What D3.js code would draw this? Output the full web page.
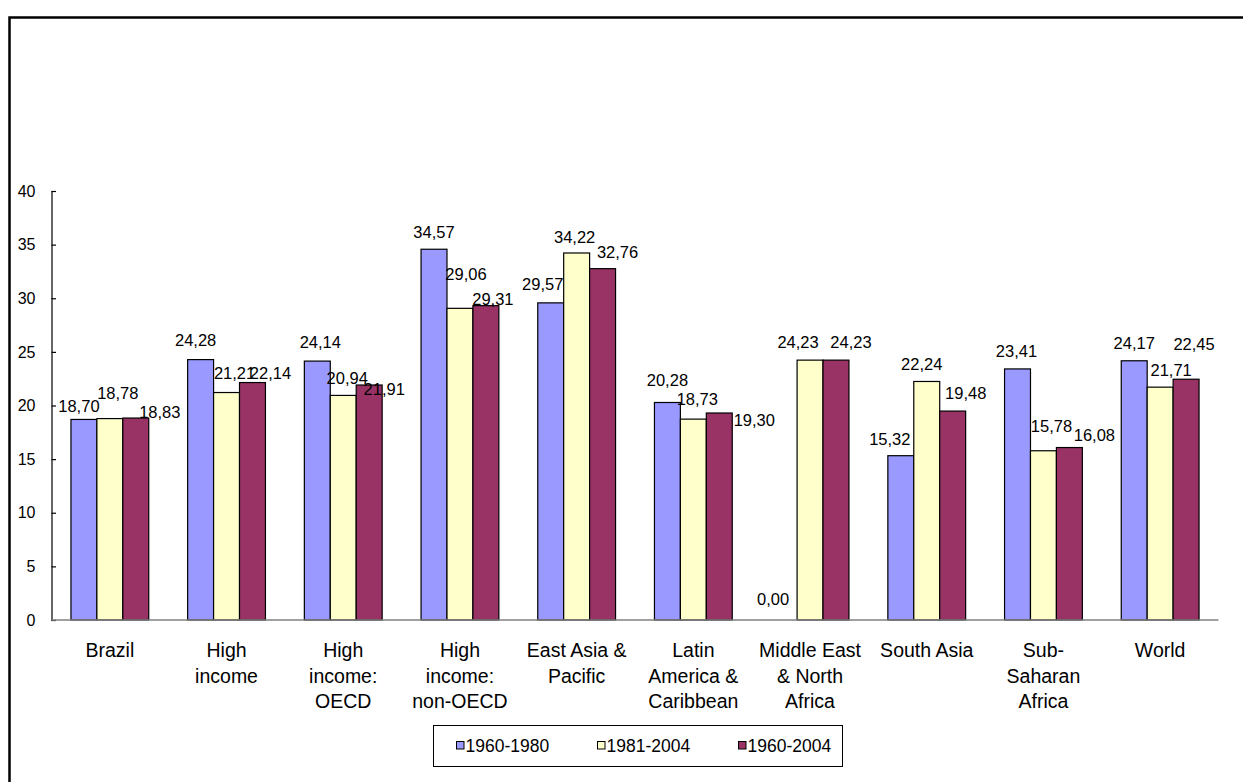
<!DOCTYPE html>
<html>
<head>
<meta charset="utf-8">
<script src="https://cdn.jsdelivr.net/npm/d3@7"></script>
<style>
  html, body { margin: 0; padding: 0; background: #fff; }
  svg { display: block; }
  text { font-family: "Liberation Sans", Arial, sans-serif; fill: #000; }
</style>
</head>
<body>
<svg id="chart" width="1243" height="782"></svg>
<script>
// ---------- data ----------
const categories = ["Brazil", "High income", "High income: OECD", "High income: non-OECD",
  "East Asia & Pacific", "Latin America & Caribbean", "Middle East & North Africa",
  "South Asia", "Sub-Saharan Africa", "World"];
const categoryLines = [["Brazil"], ["High", "income"], ["High", "income:", "OECD"],
  ["High", "income:", "non-OECD"], ["East Asia &", "Pacific"], ["Latin", "America &", "Caribbean"],
  ["Middle East", "& North", "Africa"], ["South Asia"], ["Sub-", "Saharan", "Africa"], ["World"]];
const seriesNames = ["1960-1980", "1981-2004", "1960-2004"];
const values1960_1980 = [18.70, 24.28, 24.14, 34.57, 29.57, 20.28, 0.00, 15.32, 23.41, 24.17];
const values1981_2004 = [18.78, 21.21, 20.94, 29.06, 34.22, 18.73, 24.23, 22.24, 15.78, 21.71];
const values1960_2004 = [18.83, 22.14, 21.91, 29.31, 32.76, 19.30, 24.23, 19.48, 16.08, 22.45];
const yTicks = [0, 5, 10, 15, 20, 25, 30, 35, 40];
const seriesColors = ["#9999FF", "#FFFFCC", "#993366"];

// label nudges (dx, dy of label centre relative to bar top-centre), as placed in the original
const nudge1960_1980 = [[-5,-13],[-5,-19],[3,-19],[0,-17],[-8,-19],[0,-22],[-11,-21],[-11,-16],[-1,-18],[0,-18]];
const nudge1981_2004 = [[8,-25],[8,-19],[4,-17],[6,-34],[-2,-16],[4,-20],[-12,-18],[-5,-17],[8,-25],[11,-17]];
const nudge1960_2004 = [[24,-6],[18,-9],[15,4],[7,-6],[15,-16],[35,7],[15,-18],[13,-18],[25,-12],[8,-35]];

const allValues = [values1960_1980, values1981_2004, values1960_2004];
const allNudges = [nudge1960_1980, nudge1981_2004, nudge1960_2004];

// ---------- layout ----------
const svg = d3.select("#chart");
const plotLeft = 51.5, plotRight = 1218.5, plotTop = 191, plotBottom = 620;

// outer frame (extends beyond the visible area on right/bottom)
svg.append("rect")
  .attr("x", 9.5).attr("y", 17.5).attr("width", 1400).attr("height", 1000)
  .attr("fill", "none").attr("stroke", "#000").attr("stroke-width", 2.5);

const x0 = d3.scaleBand().domain(categories).range([plotLeft, plotRight]).padding(0);
const x1 = d3.scaleBand().domain(seriesNames).range([0, x0.bandwidth()])
  .paddingInner(0).paddingOuter(0.75);
const y = d3.scaleLinear().domain([0, 40]).range([plotBottom, plotTop]);

// y axis
const yAxis = d3.axisLeft(y).tickValues(yTicks).tickSize(-4.5).tickPadding(16).tickFormat(d3.format("d"));
const gy = svg.append("g").attr("transform", `translate(${plotLeft},0)`).call(yAxis);
gy.select(".domain").attr("stroke", "#000").attr("stroke-width", 1.2);
gy.selectAll(".tick line").attr("stroke", "#000").attr("stroke-width", 1.2);
gy.selectAll(".tick text").style("font-size", "16px").style("font-family", "'Liberation Sans', Arial, sans-serif")
  .attr("fill", "#000");

// bars
const groups = svg.append("g").selectAll("g").data(categories).join("g")
  .attr("transform", d => `translate(${x0(d)},0)`);

seriesNames.forEach((s, si) => {
  groups.append("rect")
    .attr("x", x1(s))
    .attr("y", (d, i) => y(allValues[si][i]))
    .attr("width", x1.bandwidth())
    .attr("height", (d, i) => y(0) - y(allValues[si][i]))
    .attr("fill", seriesColors[si])
    .attr("stroke", "#000").attr("stroke-width", 1.2);
});

// x axis line
svg.append("line")
  .attr("x1", plotLeft).attr("x2", plotRight).attr("y1", y(0)).attr("y2", y(0))
  .attr("stroke", "#808080").attr("stroke-width", 1.5);

// data labels
const fmt = v => v.toFixed(2).replace(".", ",");
seriesNames.forEach((s, si) => {
  groups.append("text")
    .attr("x", (d, i) => x1(s) + x1.bandwidth() / 2 + allNudges[si][i][0])
    .attr("y", (d, i) => y(allValues[si][i]) + allNudges[si][i][1])
    .attr("dy", "0.35em")
    .attr("text-anchor", "middle")
    .style("font-size", "16.5px")
    .text((d, i) => fmt(allValues[si][i]));
});

// category labels
groups.each(function(d, i) {
  const t = d3.select(this).append("text")
    .attr("text-anchor", "middle")
    .style("font-size", "19.5px");
  categoryLines[i].forEach((line, li) => {
    t.append("tspan").attr("x", x0.bandwidth() / 2).attr("y", 657 + li * 25.5).text(line);
  });
});

// legend
const legend = svg.append("g");
legend.append("rect").attr("x", 433.5).attr("y", 725.5).attr("width", 409).attr("height", 41)
  .attr("fill", "#fff").attr("stroke", "#000").attr("stroke-width", 1);
const legendX = d3.scalePoint().domain(seriesNames).range([456.5, 738.5]);
seriesNames.forEach((s, si) => {
  legend.append("rect").attr("x", legendX(s)).attr("y", 741.5).attr("width", 7.5).attr("height", 7.5)
    .attr("fill", seriesColors[si]).attr("stroke", "#000").attr("stroke-width", 1);
  legend.append("text").attr("x", legendX(s) + 9).attr("y", 751.5)
    .style("font-size", "17.5px").text(s);
});
</script>
</body>
</html>
